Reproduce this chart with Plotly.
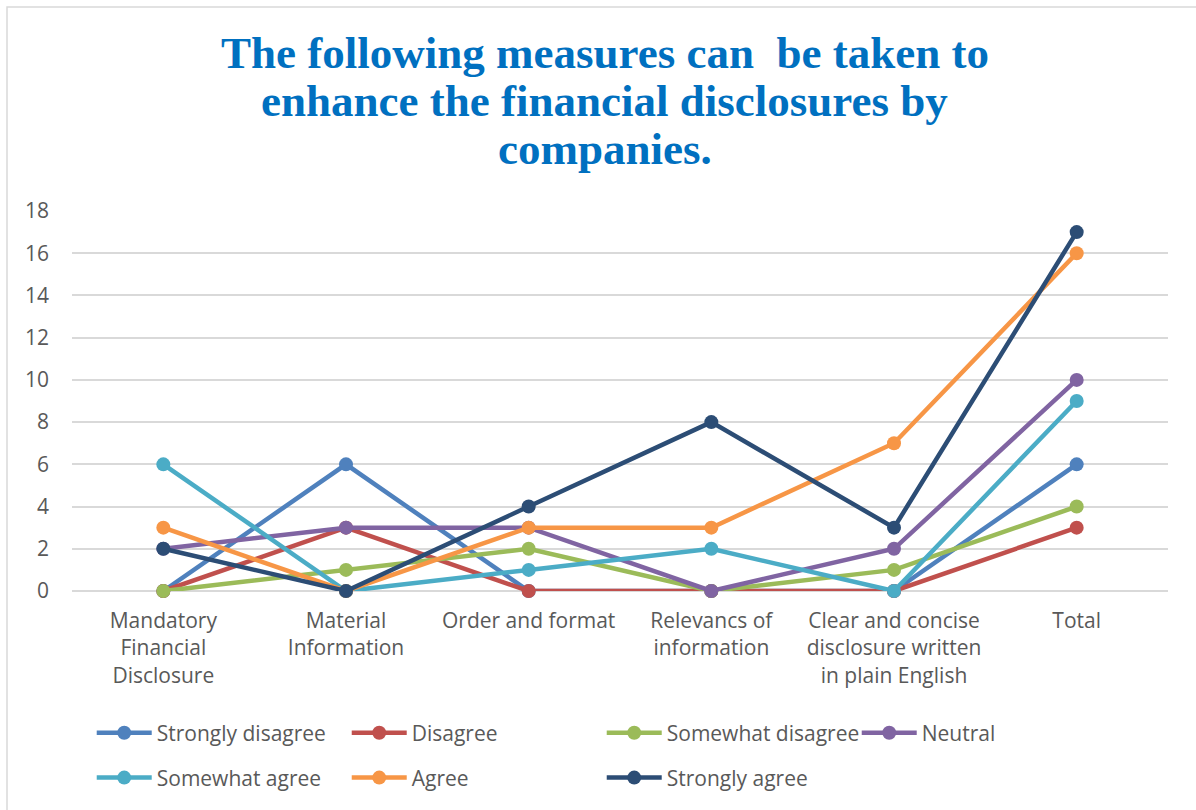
import plotly.graph_objects as go

# Survey responses per measure, with the row totals in the last column
categories = [
    "Mandatory<br>Financial<br>Disclosure",
    "Material<br>Information",
    "Order and format",
    "Relevancs of<br>information",
    "Clear and concise<br>disclosure written<br>in plain English",
    "Total",
]

strongly_disagree = [0, 6, 0, 0, 0, 6]
disagree = [0, 3, 0, 0, 0, 3]
somewhat_disagree = [0, 1, 2, 0, 1, 4]
neutral = [2, 3, 3, 0, 2, 10]
somewhat_agree = [6, 0, 1, 2, 0, 9]
agree = [3, 0, 3, 3, 7, 16]
strongly_agree = [2, 0, 4, 8, 3, 17]

series_names = [
    "Strongly disagree", "Disagree", "Somewhat disagree", "Neutral",
    "Somewhat agree", "Agree", "Strongly agree",
]
series_values = [
    strongly_disagree, disagree, somewhat_disagree, neutral,
    somewhat_agree, agree, strongly_agree,
]
series_colors = [
    "#4F81BD", "#C0504D", "#9BBB59", "#8064A2",
    "#4BACC6", "#F79646", "#2C4D75",
]

title_lines = [
    "The following measures can  be taken to",
    "enhance the financial disclosures by",
    "companies.",
]

y_ticks = [0, 2, 4, 6, 8, 10, 12, 14, 16, 18]

fig = go.Figure()
for i, (name, vals, col) in enumerate(zip(series_names, series_values, series_colors)):
    fig.add_trace(go.Scatter(
        x=categories, y=vals, name=name, mode="lines+markers",
        line=dict(color=col, width=4.5),
        marker=dict(color=col, size=14),
        cliponaxis=False,
        legend="legend" if i < 4 else "legend2",
    ))

label_font = dict(family="Open Sans", size=21, color="#595959")

# Title lines, centred over the chart
title_y = [1.415, 1.29, 1.163]
annotations = [
    dict(text="<b>" + t + "</b>", x=0.486, y=yy, xref="paper", yref="paper",
         xanchor="center", yanchor="middle", showarrow=False,
         font=dict(family="Liberation Serif", size=45, color="#0070C0"))
    for t, yy in zip(title_lines, title_y)
]

legend_common = dict(
    orientation="h", x=0.018, xanchor="left", yanchor="middle",
    font=label_font, entrywidth=185, entrywidthmode="pixels",
    itemwidth=55, bgcolor="rgba(0,0,0,0)", traceorder="normal",
)

fig.update_layout(
    width=1196, height=810,
    margin=dict(l=72, r=28, t=211, b=219),
    paper_bgcolor="white", plot_bgcolor="white",
    showlegend=True,
    annotations=annotations,
    legend=dict(y=-0.374, **legend_common),
    legend2=dict(y=-0.492, **legend_common),
    xaxis=dict(
        type="category", range=[-0.5, 5.5],
        showgrid=False, showline=False, zeroline=False,
        tickfont=label_font, ticks="", ticklabelstandoff=15,
        fixedrange=True,
    ),
    yaxis=dict(
        range=[0, 18], tickvals=y_ticks, showgrid=True,
        gridcolor="#D9D9D9", gridwidth=1.5, zeroline=True,
        zerolinecolor="#D9D9D9", zerolinewidth=1.5, showline=False,
        tickfont=label_font, ticks="", ticklabelstandoff=22,
        fixedrange=True,
    ),
    shapes=[dict(
        type="rect", xref="paper", yref="paper",
        x0=-0.0593, x1=1.05, y0=-0.6, y1=1.5368,
        line=dict(color="#D9D9D9", width=1.5), fillcolor="rgba(0,0,0,0)",
        layer="below",
    )],
)

fig.write_html("out.html")
